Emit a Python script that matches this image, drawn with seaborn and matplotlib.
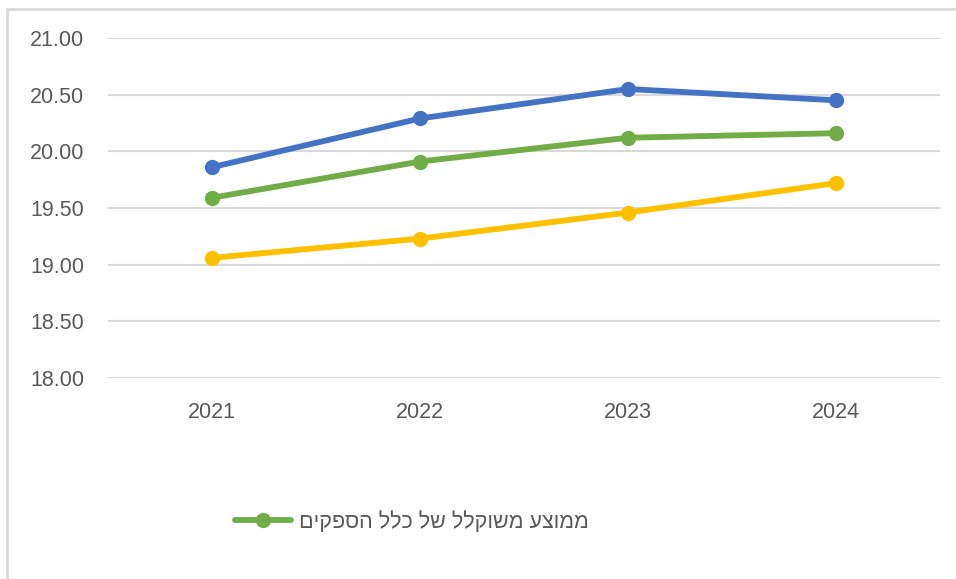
import matplotlib
matplotlib.use('Agg')
import pandas as pd
import seaborn as sns
import matplotlib.pyplot as plt
from matplotlib.lines import Line2D

years = [2021, 2022, 2023, 2024]
blue_vals = [19.86, 20.29, 20.55, 20.45]
green_vals = [19.59, 19.91, 20.12, 20.16]
yellow_vals = [19.06, 19.23, 19.46, 19.72]
green_label = 'ממוצע משוקלל של כלל הספקים'
y_ticks = [18.0, 18.5, 19.0, 19.5, 20.0, 20.5, 21.0]

df = pd.DataFrame({'Year': years, 'blue': blue_vals, 'green': green_vals, 'yellow': yellow_vals})

sns.set_style('white')
plt.rcParams['font.family'] = ['Liberation Sans', 'DejaVu Sans']

fig = plt.figure(figsize=(9.56, 5.79), dpi=100)
W, H = 956, 579
ax = fig.add_axes([108 / W, 1 - 378 / H, (940 - 108) / W, (378 - 38) / H])

colors = {'blue': '#4472C4', 'green': '#70AD47', 'yellow': '#FFC000'}
for col in ['blue', 'green', 'yellow']:
    sns.lineplot(data=df, x='Year', y=col, ax=ax, color=colors[col], linewidth=4.2,
                 marker='o', markersize=11, markeredgewidth=0, legend=False)

ax.set_xlim(2020.5, 2024.5)
ax.set_ylim(18, 21)
ax.set_xticks(years)
ax.set_xticklabels([str(y) for y in years])
ax.set_yticks(y_ticks)
ax.set_yticklabels([f'{v:.2f}' for v in y_ticks])
ax.grid(axis='y', color='#D9D9D9', linewidth=1.5)
ax.set_axisbelow(True)
for s in ax.spines.values():
    s.set_visible(False)
ax.tick_params(axis='both', length=0, labelsize=15.5, labelcolor='#595959')
ax.tick_params(axis='y', pad=17)
ax.tick_params(axis='x', pad=17)
ax.set_xlabel('')
ax.set_ylabel('')

# only the green series is in the legend
handle = Line2D([], [], color=colors['green'], linewidth=4.2, marker='o', markersize=11, markeredgewidth=0)
leg = fig.legend([handle], [green_label[::-1]], loc='center left',
                 bbox_to_anchor=(235 / W, 1 - 522 / H), frameon=False, borderpad=0,
                 borderaxespad=0, handlelength=2.6, handletextpad=0.35, fontsize=15.5)
for t in leg.get_texts():
    t.set_color('#595959')

# chart area border (top and left edges visible)
fig.add_artist(Line2D([6.5 / W, 1], [1 - 9 / H, 1 - 9 / H], transform=fig.transFigure, color='#D9D9D9', linewidth=2))
fig.add_artist(Line2D([6.5 / W, 6.5 / W], [0, 1 - 9 / H], transform=fig.transFigure, color='#D9D9D9', linewidth=2))

fig.savefig('out.png', dpi=100)
